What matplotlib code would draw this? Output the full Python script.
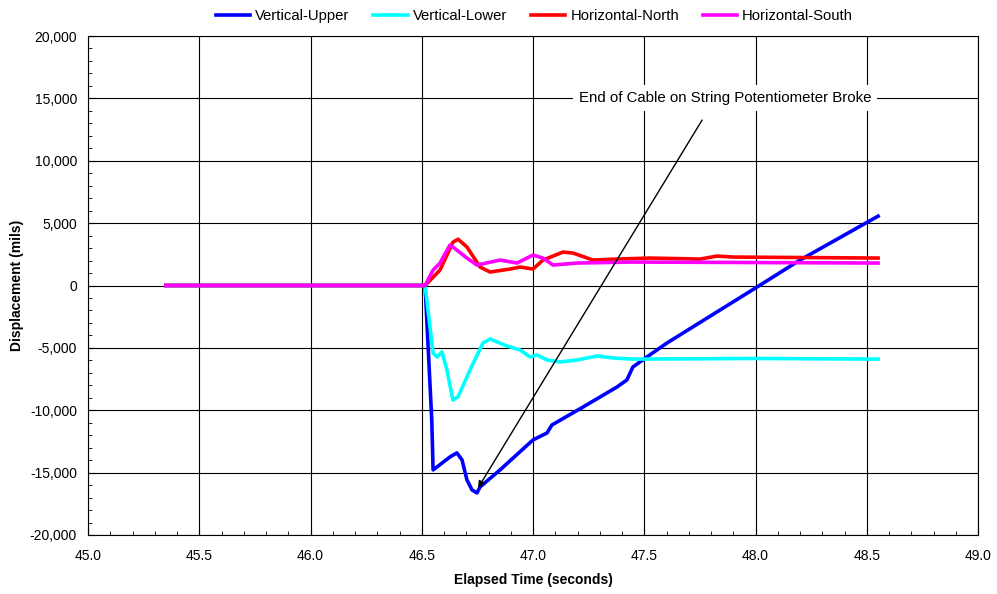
import numpy as np
import matplotlib
matplotlib.use("Agg")
import matplotlib.pyplot as plt
from matplotlib.ticker import MultipleLocator, FuncFormatter

plt.rcParams["font.family"] = ["Liberation Sans", "DejaVu Sans"]

# Vertical-Upper (blue)
t_vu = [45.35, 46.515, 46.545, 46.551, 46.569, 46.627, 46.658, 46.681, 46.703, 46.726,
        46.748, 46.762, 46.852, 47.0, 47.063, 47.085, 47.225, 47.378, 47.422, 47.449,
        47.512, 47.602, 48.0, 48.2, 48.551]
v_vu = [0, 0, -10800, -14780, -14540, -13740, -13420, -13980, -15580, -16390,
        -16630, -16150, -14780, -12380, -11820, -11180, -9740, -8130, -7570, -6530,
        -5730, -4610, -200, 2040, 5560]

# Vertical-Lower (cyan)
t_vl = [45.35, 46.515, 46.551, 46.569, 46.591, 46.613, 46.640, 46.663, 46.717, 46.775,
        46.807, 46.883, 46.942, 46.987, 47.018, 47.063, 47.121, 47.198, 47.288, 47.360,
        47.449, 48.0, 48.551]
v_vl = [0, 0, -5410, -5730, -5330, -6770, -9180, -8930, -6770, -4610,
        -4290, -4850, -5170, -5730, -5570, -5970, -6130, -5970, -5650, -5810,
        -5900, -5850, -5900]

# Horizontal-North (red)
t_hn = [45.35, 46.515, 46.582, 46.640, 46.663, 46.703, 46.762, 46.807, 46.897, 46.942,
        47.0, 47.045, 47.135, 47.180, 47.270, 47.378, 47.526, 47.751, 47.827, 47.899,
        48.551]
v_hn = [0, 0, 1240, 3470, 3710, 3090, 1480, 1080, 1320, 1480,
        1320, 2040, 2680, 2600, 2040, 2120, 2200, 2120, 2360, 2280,
        2200]

# Horizontal-South (magenta)
t_hs = [45.35, 46.515, 46.551, 46.582, 46.627, 46.640, 46.703, 46.748, 46.852, 46.928,
        47.0, 47.045, 47.090, 47.198, 47.449, 48.551]
v_hs = [0, 0, 1240, 1800, 3250, 3090, 2200, 1640, 2040, 1800,
        2440, 2200, 1640, 1800, 1880, 1800]

series = [("Vertical-Upper", t_vu, v_vu, "#0000ff"),
          ("Vertical-Lower", t_vl, v_vl, "#00ffff"),
          ("Horizontal-North", t_hn, v_hn, "#ff0000"),
          ("Horizontal-South", t_hs, v_hs, "#ff00ff")]

note = "End of Cable on String Potentiometer Broke"


def main():
    fig = plt.figure(figsize=(9.97, 5.94), dpi=100)
    ax = fig.add_axes([88 / 997, 1 - 535 / 594, (978 - 88) / 997, (535 - 36) / 594])

    for name, t, v, c in series:
        ax.plot(t, v, color=c, lw=2.6, label=name, zorder=3)

    ax.set_xlim(45.0, 49.0)
    ax.set_ylim(-20000, 20000)
    ax.xaxis.set_major_locator(MultipleLocator(0.5))
    ax.xaxis.set_minor_locator(MultipleLocator(0.1))
    ax.yaxis.set_major_locator(MultipleLocator(5000))
    ax.yaxis.set_minor_locator(MultipleLocator(1000))
    ax.xaxis.set_major_formatter(FuncFormatter(lambda x, p: "{:.1f}".format(x)))
    ax.yaxis.set_major_formatter(FuncFormatter(lambda y, p: "{:,.0f}".format(y)))
    ax.tick_params(which="both", direction="in", labelsize=10, top=False, right=False)
    ax.tick_params(axis="x", which="major", length=5, pad=10)
    ax.tick_params(axis="y", which="major", length=5, pad=8)
    ax.tick_params(which="minor", length=3)
    ax.grid(True, which="major", color="black", lw=0.8, zorder=1)
    for s in ax.spines.values():
        s.set_color("black")
        s.set_linewidth(0.8)

    ax.set_xlabel("Elapsed Time (seconds)", fontsize=10, fontweight="bold")
    ax.set_ylabel("Displacement (mils)", fontsize=10, fontweight="bold")
    ax.xaxis.set_label_coords(0.5, (535 - 573) / 499)
    ax.yaxis.set_label_coords((24 - 88) / 890, 0.5)

    ax.text(47.863, 15000, note, fontsize=10.8, ha="center", va="center", zorder=4,
            bbox=dict(boxstyle="square,pad=0.4", fc="white", ec="none"))
    ax.annotate("", xy=(46.753, -16230), xytext=(47.76, 13260), zorder=5,
                arrowprops=dict(arrowstyle="-|>", color="black", lw=1, mutation_scale=10,
                                shrinkA=0, shrinkB=0))

    fig.legend(loc="center", bbox_to_anchor=(534.5 / 997, 1 - 16 / 594), ncol=4, frameon=False,
               fontsize=10.7, handlelength=2.3, handletextpad=0.35, columnspacing=1.6)

    plt.savefig("out.png", dpi=100)


if __name__ == '__main__':
    main()
